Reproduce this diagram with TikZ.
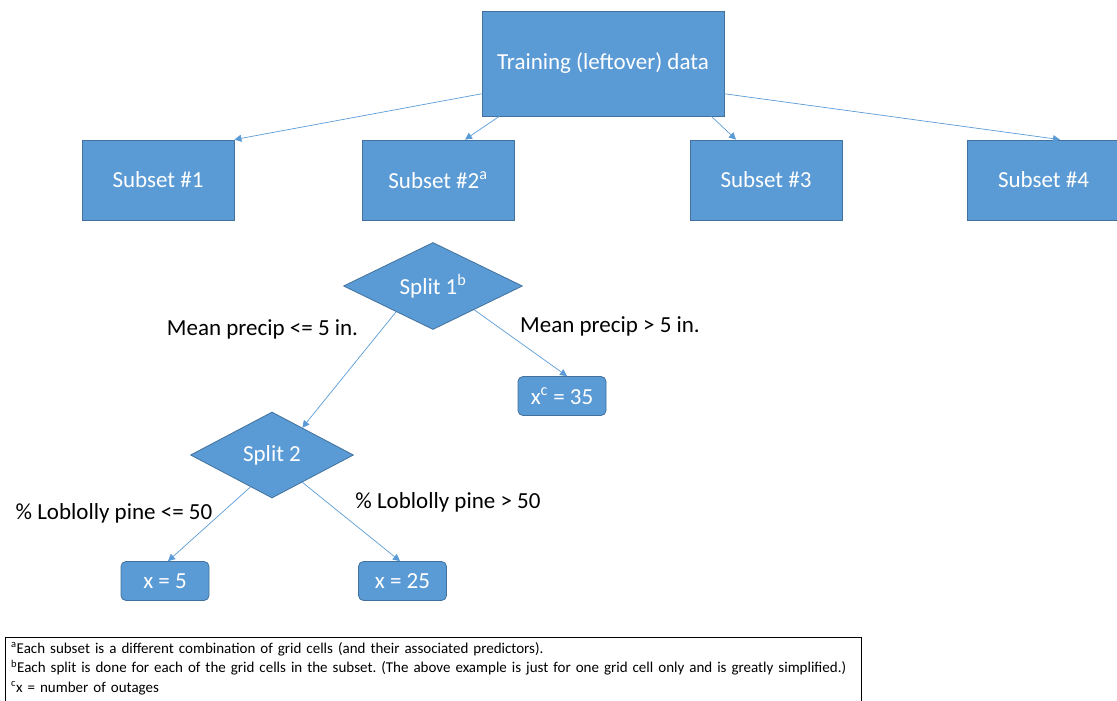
\documentclass[tikz,border=0pt]{standalone}
\usepackage{fontspec}
\setmainfont{Carlito}
\usetikzlibrary{shapes.geometric,arrows.meta}
\definecolor{boxblue}{HTML}{5B9BD5}
\definecolor{boxline}{HTML}{41719C}

\begin{document}
\begin{tikzpicture}[x=1pt,y=-1pt,
          block/.style={
            rectangle,
            fill=boxblue,
            draw=boxline,
            line width=0.8pt,
            text=white,
            inner sep=0pt,
            font=\fontsize{23}{27}\selectfont,
            minimum width=152pt,
            minimum height=80pt,
          },
          split/.style={
            diamond,
            aspect=2,
            fill=boxblue,
            draw=boxline,
            line width=0.8pt,
            text=white,
            inner sep=0pt,
            font=\fontsize{23}{27}\selectfont,
          },
          leaf/.style={
            rectangle,
            rounded corners=5pt,
            fill=boxblue,
            draw=boxline,
            line width=0.8pt,
            text=white,
            inner sep=0pt,
            font=\fontsize{23}{27}\selectfont,
            minimum width=88pt,
            minimum height=39pt,
          },
          rule/.style={font=\fontsize{23}{27}\selectfont, inner sep=0pt},
          arr/.style={-{Triangle[length=7pt,width=7pt]}, draw=boxblue, line width=0.7pt},
        ]
          \useasboundingbox (0,0) rectangle (1117,701);
          % top row
          \node[block, minimum width=242pt, minimum height=105pt](train) at (603,63.5){Training (leftover) data};
          \node[block](sub1) at (158,180){Subset \#1};
          \node[block](sub2) at (438,180){Subset \#2\textsuperscript{a}};
          \node[block](sub3) at (766,180){Subset \#3};
          \node[block](sub4) at (1043.5,180){Subset \#4};
          % tree for subset 2
          \node[split, minimum width=179pt, minimum height=87pt](s1) at (433,286){Split 1\textsuperscript{b}};
          \node[split, minimum width=163pt, minimum height=86pt](s2) at (272,455){Split 2};
          \node[leaf](x35) at (562,396){x\textsuperscript{c} = 35};
          \node[leaf](x5) at (165,581){x = 5};
          \node[leaf](x25) at (402.5,581){x = 25};
          % branch rules
          \node[rule](r1) at (262.5,329){Mean precip <= 5 in.};
          \node[rule](r2) at (610,326){Mean precip > 5 in.};
          \node[rule](r3) at (114,513){\% Loblolly pine <= 50};
          \node[rule](r4) at (448,502){\% Loblolly pine > 50};
          \draw
              (train.194) edge [arr] (sub1.north east)
              (train.207) edge [arr] ([xshift=27pt]sub2.north)
              (train.334) edge [arr] ([xshift=-30pt]sub3.north)
              (train.346) edge [arr] ([xshift=16.5pt]sub4.north)
              (s1.215) edge [arr] (s2.42)
              (s1.330) edge [arr] ([xshift=5pt]x35.north)
              (s2.236) edge [arr] ([xshift=3pt]x5.north)
              (s2.318) edge [arr] ([xshift=-2.5pt]x25.north);
          % footnotes (box runs past the bottom edge)
          \node[anchor=north west, align=left, text width=844pt, inner xsep=6pt, inner ysep=5pt,
                font=\fontsize{15}{19.5}\selectfont\frenchspacing](notes) at (5,637){%
            \textsuperscript{a}Each subset is a different combination of grid cells (and their associated predictors).\\
            \textsuperscript{b}Each split is done for each of the grid cells in the subset. (The above example is just for one grid cell only and is greatly simplified.)\\
            \textsuperscript{c}x = number of outages};
          \draw[line width=0.8pt] (notes.north west) rectangle ([yshift=-20pt]notes.south east);
        \end{tikzpicture}
\end{document}
